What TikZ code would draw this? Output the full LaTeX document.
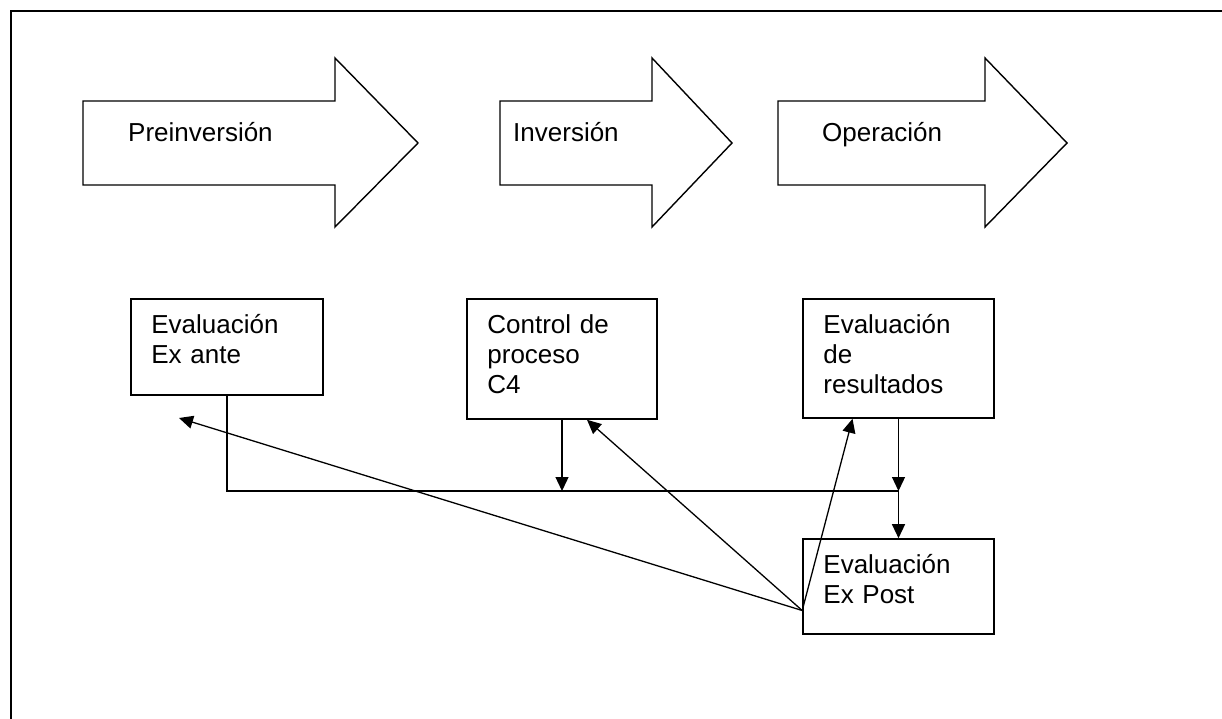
\documentclass[tikz,border=0pt]{standalone}
\usepackage{fontspec}
\setmainfont{Liberation Sans}
\usetikzlibrary{arrows.meta,calc}
\begin{document}
\begin{tikzpicture}[x=1pt,y=-1pt,
  lbl/.style={font=\fontsize{26}{30}\selectfont, inner sep=0pt, anchor=base west, align=left, text width=170pt},
  stage/.style={draw, line width=1.6pt, inner sep=0pt},
  link/.style={line width=1.3pt},
  tip/.style={link, -{Triangle[length=14pt,width=13pt]}},
  phase/.style={draw, line width=1.4pt, line join=miter, fill=white}]
\useasboundingbox (0,0) rectangle (1222,719);

% open frame: top and left edges only
\draw[line width=2.4pt] (1222,11) -- (11,11) -- (11,719);

% phase block arrows
\foreach \a/\b/\c in {83/335/418, 500/652/732, 778/985/1067}
  \draw[phase] (\a,101) -- (\b,101) -- (\b,58) -- (\c,143) -- (\b,227) -- (\b,185) -- (\a,185) -- cycle;
\node[lbl] (pre) at (128,142) {Preinversión};
\node[lbl] (inv) at (513,142) {Inversión};
\node[lbl] (ope) at (822,142) {Operación};

% evaluation boxes
\node[stage, minimum width=192pt, minimum height=96pt] (exante) at (227,347) {};
\node[stage, minimum width=190pt, minimum height=120pt] (c4) at (562,359) {};
\node[stage, minimum width=191pt, minimum height=119pt] (res) at (898.5,358.5) {};
\node[stage, minimum width=191pt, minimum height=95pt] (expost) at (898.5,586.5) {};

\node[lbl] (exanteT) at ($(exante.north west)+(21,35)$) {Evaluación\\Ex ante};
\node[lbl] (c4T) at ($(c4.north west)+(21,35)$) {Control de\\proceso\\C4};
\node[lbl] (resT) at ($(res.north west)+(21,35)$) {Evaluación\\de\\resultados};
\node[lbl] (expostT) at ($(expost.north west)+(21,35)$) {Evaluación\\Ex Post};

% junction of the feedback lines
\coordinate (j) at (res.south |- 0,491);
\coordinate (src) at ([yshift=-24pt]expost.west);
\coordinate (anteTip) at (179,418);

\draw[link] (exante.south) |- (j);
\draw[tip] (c4.south) -- (c4.south |- j);
\draw[tip] (res.south) -- (j);
\draw[tip] (j) -- (expost.north);

\draw[tip] (src) -- (anteTip);
\draw[tip] (src) -- ([xshift=25pt]c4.south);
\draw[tip] (src) -- ([xshift=-46pt]res.south);
\end{tikzpicture}
\end{document}
